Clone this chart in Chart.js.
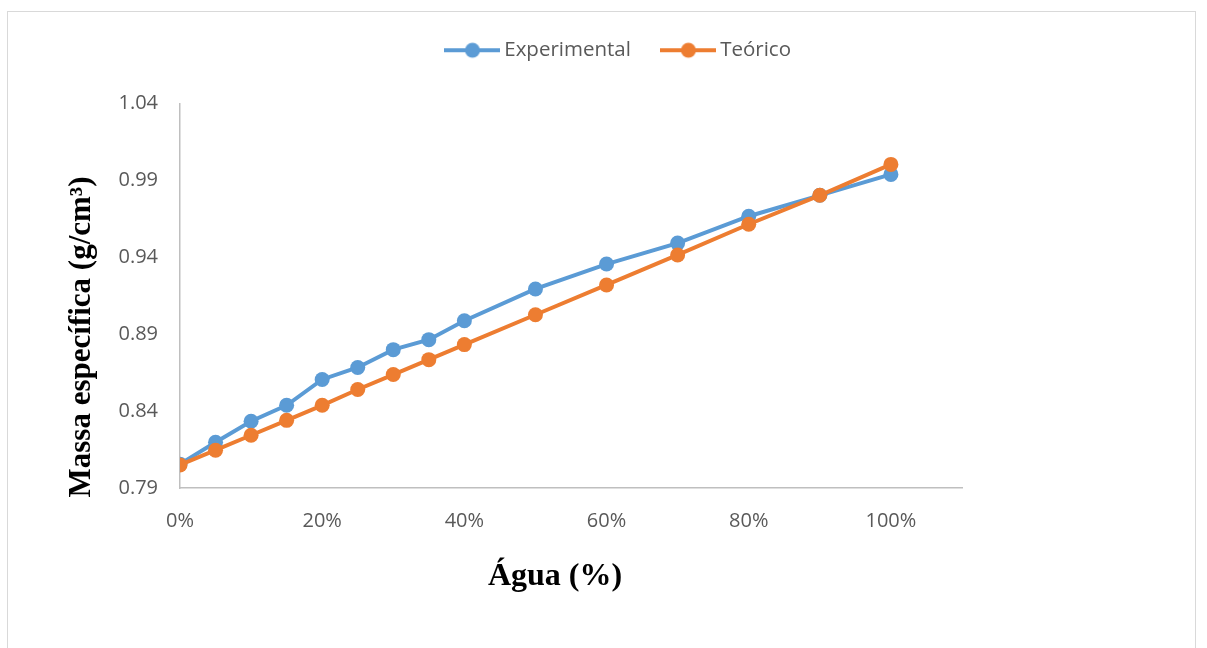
<!DOCTYPE html>
<html>
<head>
<meta charset="utf-8">
<script src="https://cdn.jsdelivr.net/npm/chart.js@4.4.1/dist/chart.umd.min.js"></script>
<style>
  html, body { margin: 0; padding: 0; background: #fff; }
  #wrap { position: relative; width: 1207px; height: 648px; overflow: hidden; }
  #frame { position: absolute; left: 7px; top: 11px; width: 1189px; height: 700px; border: 1px solid #d9d9d9; box-sizing: border-box; }
  canvas { position: absolute; left: 0; top: 0; }
</style>
</head>
<body>
<div id="wrap">
  <div id="frame"></div>
  <canvas id="grafico" width="1207" height="648"></canvas>
</div>
<script>
// Água (%)
const agua = [0, 5, 10, 15, 20, 25, 30, 35, 40, 50, 60, 70, 80, 90, 100];
// Massa específica (g/cm³)
const experimental = [0.8055, 0.8198, 0.8334, 0.8438, 0.8606, 0.8684, 0.8800, 0.8865, 0.8988, 0.9195, 0.9357, 0.9493, 0.9668, 0.9804, 0.9940];
const teorico = [0.8050, 0.8146, 0.8243, 0.8340, 0.8438, 0.8541, 0.8638, 0.8735, 0.8833, 0.9027, 0.9221, 0.9416, 0.9616, 0.9804, 1.0005];
const yTicks = [0.79, 0.84, 0.89, 0.94, 0.99, 1.04];
const xTicks = [0, 20, 40, 60, 80, 100];

const azul = '#5B9BD5';
const laranja = '#ED7D31';

// icone da legenda: linha com marcador no meio
function iconeLegenda(cor) {
    const c = document.createElement('canvas');
    c.width = 56; c.height = 18;
    const g = c.getContext('2d');
    g.strokeStyle = cor;
    g.lineWidth = 4;
    g.beginPath(); g.moveTo(0, 9); g.lineTo(56, 9); g.stroke();
    g.fillStyle = cor;
    g.beginPath(); g.arc(28, 9, 7.5, 0, Math.PI * 2); g.fill();
    return c;
}

// titulos dos eixos desenhados a mao
const titulosEixos = {
    id: 'titulosEixos',
    afterDraw(chart) {
        const ctx = chart.ctx;
        ctx.save();
        ctx.fillStyle = '#000';
        ctx.textAlign = 'center';
        ctx.textBaseline = 'middle';
        ctx.font = 'bold 32px "Liberation Serif", "Times New Roman", serif';
        ctx.fillText('Água (%)', 555, 577);
        ctx.translate(82, 337);
        ctx.rotate(-Math.PI / 2);
        ctx.font = 'bold 31px "Liberation Serif", "Times New Roman", serif';
        ctx.fillText('Massa específica (g/cm³)', 0, 0);
        ctx.restore();
    }
};

const ctx = document.getElementById('grafico').getContext('2d');

new Chart(ctx, {
    type: 'line',
    data: {
        datasets: [
            {
                label: 'Experimental',
                data: agua.map((x, i) => ({ x: x, y: experimental[i] })),
                borderColor: azul,
                backgroundColor: azul,
                pointBackgroundColor: azul,
                pointBorderColor: azul,
                borderWidth: 4,
                pointRadius: 7.5,
                pointBorderWidth: 0,
                tension: 0,
                order: 1
            },
            {
                label: 'Teórico',
                data: agua.map((x, i) => ({ x: x, y: teorico[i] })),
                borderColor: laranja,
                backgroundColor: laranja,
                pointBackgroundColor: laranja,
                pointBorderColor: laranja,
                borderWidth: 4,
                pointRadius: 7.5,
                pointBorderWidth: 0,
                tension: 0,
                order: 0
            }
        ]
    },
    options: {
        responsive: false,
        animation: false,
        events: [],
        layout: {
            padding: { top: 4, left: 40, right: 5, bottom: 100 }
        },
        plugins: {
            tooltip: { enabled: false },
            // espaco entre legenda e grafico
            title: {
                display: true,
                text: ' ',
                weight: 500,
                font: { size: 1 },
                padding: { top: 0, bottom: 32 }
            },
            legend: {
                position: 'top',
                labels: {
                    usePointStyle: true,
                    pointStyleWidth: 43,
                    color: '#595959',
                    font: { family: '"Open Sans", sans-serif', size: 20.5 },
                    padding: 36,
                    sort: (a, b) => a.datasetIndex - b.datasetIndex,
                    generateLabels(chart) {
                        return chart.data.datasets.map((ds, i) => ({
                            text: ds.label,
                            fillStyle: ds.borderColor,
                            strokeStyle: ds.borderColor,
                            fontColor: '#595959',
                            lineWidth: 0,
                            pointStyle: iconeLegenda(ds.borderColor),
                            datasetIndex: i,
                            hidden: false
                        }));
                    }
                }
            }
        },
        scales: {
            x: {
                type: 'linear',
                min: 0,
                max: 110,
                afterFit(scale) { scale.height = 60; },
                afterBuildTicks(scale) { scale.ticks = xTicks.map(v => ({ value: v })); },
                grid: { display: true, drawOnChartArea: false, drawTicks: false },
                border: { color: '#bfbfbf', width: 1.5 },
                ticks: {
                    padding: 21,
                    color: '#595959',
                    font: { family: '"Open Sans", sans-serif', size: 20 },
                    callback: v => v + '%'
                }
            },
            y: {
                min: 0.79,
                max: 1.04,
                afterFit(scale) { scale.width = 140; },
                afterBuildTicks(scale) { scale.ticks = yTicks.map(v => ({ value: v })); },
                grid: { display: true, drawOnChartArea: false, drawTicks: false },
                border: { color: '#bfbfbf', width: 1.5 },
                ticks: {
                    padding: 22,
                    color: '#595959',
                    font: { family: '"Open Sans", sans-serif', size: 20 },
                    callback: v => v.toFixed(2)
                }
            },
            // eixo vazio a direita, so para reservar espaco
            y2: {
                position: 'right',
                display: true,
                afterFit(scale) { scale.width = 240; },
                grid: { display: false },
                border: { display: false },
                ticks: { display: false }
            }
        }
    },
    plugins: [titulosEixos]
});
</script>
</body>
</html>
